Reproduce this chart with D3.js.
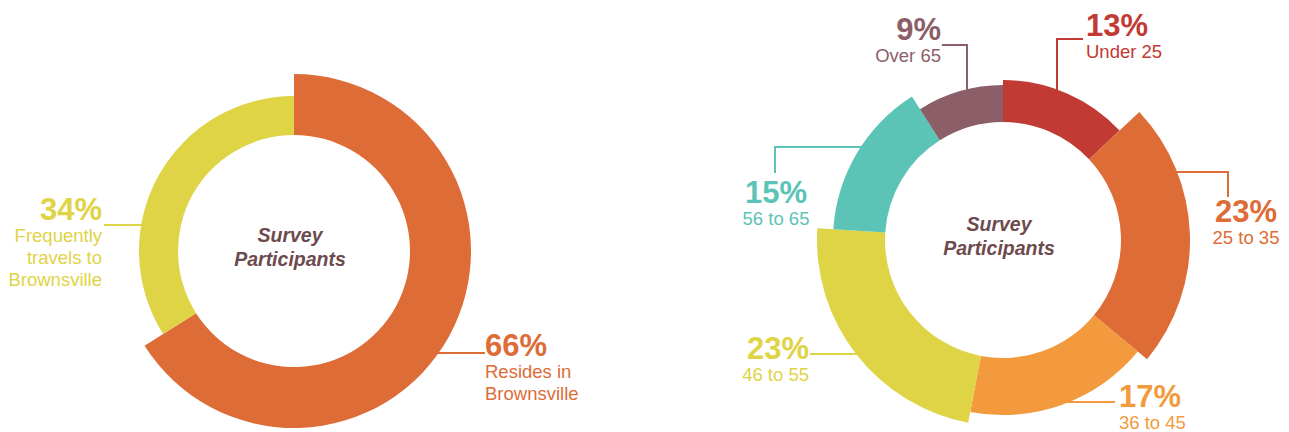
<!DOCTYPE html>
<html>
<head>
<meta charset="utf-8">
<script src="https://cdn.jsdelivr.net/npm/d3@7"></script>
<style>
  html, body { margin: 0; padding: 0; background: #fff; }
  svg { display: block; font-family: "Liberation Sans", Arial, sans-serif; }
</style>
</head>
<body>
<svg id="chart" width="1289" height="432"></svg>
<script>
// ---- data ----
const leftCategories = ["Resides in Brownsville", "Frequently travels to Brownsville"];
const leftValues = [66, 34];
const leftLabelLines = [["Resides in", "Brownsville"], ["Frequently", "travels to", "Brownsville"]];

const rightCategories = ["Under 25", "25 to 35", "36 to 45", "46 to 55", "56 to 65", "Over 65"];
const rightValues = [13, 23, 17, 23, 15, 9];

const centerTitle = ["Survey", "Participants"];

// ---- styles / layout ----
const leftColors = ["#dd6c37", "#dfd346"];
const rightColors = ["#c13a33", "#dd6c37", "#f29a3d", "#dfd346", "#5bc4b7", "#8c5e68"];

const leftLayout = {
  cx: 294, cy: 251, inner: 116, outer: [177, 155],
  leaders: [
    { pts: [[130, 102], [191, 102]], anchor: "start", x: 191, y: 105 },
    { pts: [[-140, -26], [-190, -26]], anchor: "end", x: -192, y: -31 }
  ]
};
const rightLayout = {
  cx: 1003, cy: 240, inner: 118, outer: [160, 187, 175, 186, 170, 155],
  leaders: [
    { pts: [[54, -135], [54, -201], [80, -201]], anchor: "start", x: 83, y: -204 },
    { pts: [[150, -68], [225, -68], [225, -43]], anchor: "middle", x: 243, y: -18 },
    { pts: [[50, 162], [112, 162]], anchor: "start", x: 116, y: 167 },
    { pts: [[-130, 114], [-193, 114]], anchor: "end", x: -194, y: 119 },
    { pts: [[-135, -93], [-228, -93], [-228, -67]], anchor: "middle", x: -227, y: -37 },
    { pts: [[-36, -135], [-36, -195], [-61, -195]], anchor: "end", x: -62, y: -200 }
  ]
};

const svg = d3.select("#chart");
const pie = d3.pie().sort(null).value(d => d);
const line = d3.line();

function drawDonut(values, labels, colors, layout, pctSize) {
  const g = svg.append("g").attr("transform", `translate(${layout.cx},${layout.cy})`);
  const arcs = pie(values);

  // leader lines first (arcs cover their inner ends)
  arcs.forEach((a, i) => {
    const L = layout.leaders[i];
    g.append("path")
      .attr("d", line(L.pts))
      .attr("fill", "none")
      .attr("stroke", colors[i])
      .attr("stroke-width", 2);
  });

  g.selectAll("path.slice")
    .data(arcs)
    .join("path")
    .attr("class", "slice")
    .attr("fill", (d, i) => colors[i])
    .attr("d", (d, i) => d3.arc().innerRadius(layout.inner).outerRadius(layout.outer[i])(d));

  arcs.forEach((a, i) => {
    const L = layout.leaders[i];
    const t = g.append("text")
      .attr("text-anchor", L.anchor)
      .attr("fill", colors[i]);
    t.append("tspan")
      .attr("x", L.x).attr("y", L.y)
      .attr("font-size", pctSize).attr("font-weight", "bold")
      .text(a.data + "%");
    labels[i].forEach((s, k) => {
      t.append("tspan")
        .attr("x", L.x).attr("y", L.y + 22 + k * 22)
        .attr("font-size", 18.5)
        .text(s);
    });
  });

  const c = g.append("text")
    .attr("text-anchor", "middle")
    .attr("fill", "#6d4a4d")
    .attr("font-size", 19.5)
    .attr("font-weight", "bold")
    .attr("font-style", "italic");
  centerTitle.forEach((s, k) => {
    c.append("tspan").attr("x", -4).attr("y", -9 + k * 24).text(s);
  });
  return g;
}

drawDonut(leftValues, leftLabelLines, leftColors, leftLayout, 31);
drawDonut(rightValues, rightCategories.map(d => [d]), rightColors, rightLayout, 31);
</script>
</body>
</html>
